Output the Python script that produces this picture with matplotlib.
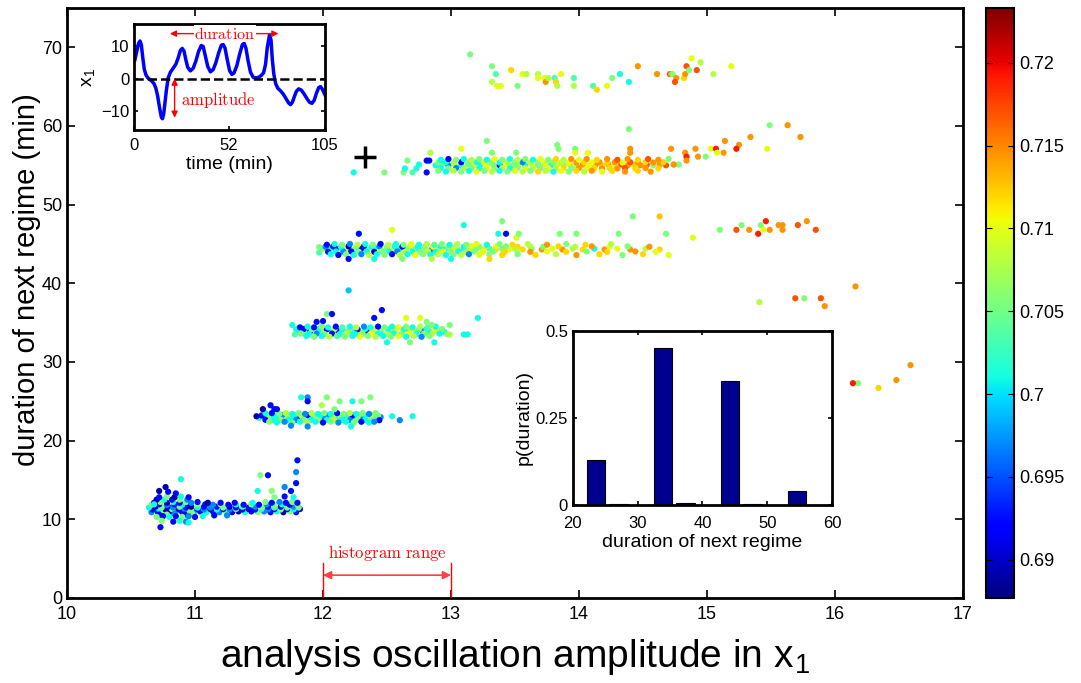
import numpy as np
import matplotlib.pyplot as plt
from matplotlib.colors import Normalize

plt.rcParams['font.family'] = ['Liberation Sans', 'DejaVu Sans']
plt.rcParams['mathtext.fontset'] = 'cm'

# ---- scatter data: (amplitude, next duration, colour value) ----
regime_11 = [
    (10.66,10.9,.697),(10.71,10.9,.6925),(10.76,11.0,.7055),(10.80,10.9,.689),(10.85,11.0,.701),(10.90,10.9,.6925),
    (10.94,11.0,.7055),(10.99,10.9,.697),(11.04,11.0,.6925),(11.09,10.9,.701),(11.14,11.0,.6925),(11.19,10.9,.697),
    (11.24,11.0,.7055),(11.29,10.9,.6925),(11.34,11.0,.689),(11.39,10.9,.701),(11.44,11.0,.6925),(11.49,10.9,.7055),
    (11.54,11.0,.697),(11.59,10.9,.6925),(11.64,11.0,.701),(11.69,10.9,.689),(11.74,11.0,.7055),(11.79,10.9,.6925),
    (10.67,11.25,.6925),(10.72,11.3,.701),(10.77,11.25,.689),(10.82,11.3,.7055),(10.87,11.25,.6925),(10.92,11.3,.697),
    (10.97,11.25,.7055),(11.02,11.3,.6925),(11.07,11.25,.697),(11.12,11.3,.689),(11.17,11.25,.701),(11.22,11.3,.6925),
    (11.27,11.25,.697),(11.32,11.3,.7055),(11.37,11.25,.6925),(11.42,11.3,.689),(11.47,11.25,.6925),(11.52,11.3,.701),
    (11.57,11.25,.697),(11.62,11.3,.6925),(11.67,11.25,.7055),(11.72,11.3,.6925),(11.77,11.25,.701),(11.82,11.3,.6925),
    (10.64,11.5,.701),(10.69,11.6,.689),(10.74,11.5,.7055),(10.79,11.6,.6925),(10.83,11.5,.697),(10.88,11.6,.7055),
    (10.93,11.5,.6925),(10.97,11.6,.689),(11.02,11.5,.701),(11.07,11.6,.6925),(11.12,11.5,.697),(11.17,11.6,.6925),
    (11.22,11.5,.7055),(11.27,11.6,.689),(11.32,11.5,.6925),(11.37,11.6,.7035),(11.42,11.5,.6925),(11.47,11.6,.697),
    (11.52,11.5,.7055),(11.57,11.6,.6925),(11.62,11.5,.7035),(11.67,11.6,.6925),(11.72,11.5,.7055),(11.77,11.6,.697),
    (11.81,11.5,.7055),
    (10.66,11.85,.7055),(10.72,11.9,.6925),(10.78,11.85,.697),(10.84,11.9,.6925),(10.90,11.85,.701),(10.96,11.9,.689),
    (11.02,11.85,.7055),(11.08,11.9,.6925),(11.14,11.85,.697),(11.20,11.9,.7055),(11.26,11.85,.6925),(11.32,11.9,.701),
    (11.38,11.85,.6925),(11.44,11.9,.7055),(11.50,11.85,.6925),(11.56,11.9,.697),(11.62,11.85,.7055),(11.68,11.9,.701),
    (11.74,11.85,.6925),(11.80,11.9,.7055),
    (10.68,12.1,.6925),(10.73,12.2,.7055),(10.78,12.1,.689),(10.83,12.2,.701),(10.88,12.1,.6925),(10.93,12.2,.7055),
    (10.97,12.1,.697),(11.02,12.2,.6925),(11.10,12.1,.689),(11.20,12.1,.6925),(11.31,12.1,.6925),(11.45,12.1,.701),
    (11.55,12.2,.7055),(11.60,12.1,.6925),(11.66,12.2,.697),(11.71,12.1,.6925),(11.76,12.2,.7055),(11.80,12.1,.6925),
    (10.70,12.5,.689),(10.76,12.5,.701),(10.82,12.5,.6925),(10.88,12.5,.7055),(10.94,12.5,.697),
    (10.72,10.6,.6925),(10.78,10.6,.7055),(10.84,10.7,.697),(10.92,10.6,.6925),(10.98,10.7,.7055),
    (10.70,10.3,.7055),(10.75,10.4,.6925),(10.80,10.3,.701),(10.85,10.4,.6925),(10.90,10.3,.7055),(10.95,10.4,.697),
    (11.00,10.3,.6925),(11.06,10.4,.701),(11.15,10.5,.6925),(11.25,10.5,.697),
    (10.72,12.8,.6925),(10.78,12.9,.7055),(10.84,12.8,.689),(10.89,12.9,.701),(10.95,12.8,.6925),(11.62,12.8,.7055),
    (11.70,12.9,.6925),(11.77,12.8,.701),
    (10.74,9.8,.7055),(10.83,9.7,.6925),(10.88,9.8,.701),(10.93,9.7,.697),
    (10.73,9.0,.6925),(10.89,15.1,.701),(10.77,14.1,.689),(10.72,13.6,.689),(10.85,13.3,.6925),(10.79,13.5,.6925),
    (11.51,15.6,.7055),(11.57,15.6,.6925),(11.79,16.0,.697),(11.79,14.6,.6925),(11.80,17.5,.6925),(11.70,14.1,.697),
    (11.75,13.6,.6925),(11.60,13.6,.7055),(11.49,13.6,.701),(10.95,9.6,.701),(10.68,11.9,.701),
]

regime_23 = [
    (11.50,22.9,.701),(11.55,23.0,.697),(11.60,22.9,.7055),(11.65,23.0,.701),(11.70,22.9,.708),(11.75,23.0,.701),
    (11.80,22.9,.6925),(11.85,23.0,.7055),(11.90,22.9,.701),(11.95,23.0,.708),(12.00,22.9,.697),(12.05,23.0,.7055),
    (12.10,22.9,.701),(12.15,23.0,.6925),(12.20,22.9,.7055),(12.25,23.0,.701),(12.30,22.9,.697),(12.35,23.0,.7055),
    (12.40,22.9,.701),(12.45,23.0,.697),
    (11.52,23.2,.6925),(11.57,23.25,.7055),(11.62,23.2,.701),(11.68,23.25,.697),(11.73,23.2,.7055),(11.78,23.25,.701),
    (11.83,23.2,.708),(11.88,23.25,.6925),(11.93,23.2,.7055),(11.98,23.25,.701),(12.03,23.2,.697),(12.08,23.25,.708),
    (12.13,23.2,.7055),(12.18,23.25,.701),(12.23,23.2,.6925),(12.28,23.25,.7055),(12.33,23.2,.701),(12.38,23.25,.708),
    (12.43,23.2,.7055),
    (11.55,23.5,.701),(11.60,23.5,.6925),(11.66,23.4,.7055),(11.71,23.5,.708),(11.76,23.4,.701),(11.81,23.5,.7055),
    (11.86,23.4,.697),(11.91,23.5,.708),(11.96,23.4,.701),(12.01,23.5,.7055),(12.06,23.4,.701),(12.11,23.5,.6925),
    (12.16,23.4,.7055),(12.21,23.5,.708),(12.26,23.4,.701),(12.31,23.5,.7055),(12.36,23.4,.697),(12.41,23.5,.7055),
    (11.55,22.65,.6925),(11.61,22.6,.701),(11.67,22.65,.7055),(11.73,22.6,.701),(11.79,22.65,.697),(11.85,22.6,.7055),
    (11.91,22.65,.701),(11.97,22.6,.7055),(12.03,22.65,.701),(12.09,22.6,.708),(12.15,22.65,.701),(12.21,22.6,.697),
    (12.27,22.65,.7055),(12.33,22.6,.701),(12.39,22.65,.7055),(12.44,22.6,.6925),
    (11.58,22.4,.7055),(11.64,22.3,.701),(11.70,22.4,.697),(11.76,22.3,.7055),(11.82,22.4,.701),(11.88,22.3,.708),
    (11.94,22.4,.701),(12.00,22.3,.6925),(12.06,22.4,.7055),(12.12,22.3,.697),(12.18,22.4,.701),(12.24,22.3,.7055),
    (12.30,22.4,.6925),(12.36,22.3,.701),(12.40,22.4,.697),
    (12.54,23.1,.701),(12.60,22.6,.697),(12.70,23.1,.701),(11.83,25.5,.701),(11.88,25.5,.697),(11.88,25.0,.6925),
    (12.03,25.5,.7055),(12.13,25.0,.7055),(12.23,25.0,.701),(12.30,25.0,.7055),(12.37,25.5,.7055),(11.99,24.5,.708),
    (12.09,24.0,.7055),(11.53,24.0,.689),(11.59,24.5,.6925),(11.64,24.0,.6925),(11.48,23.1,.689),(11.62,24.0,.6925),
    (11.88,21.8,.697),(11.75,21.9,.697),(12.22,21.8,.701),
]

regime_34 = [
    (11.80,33.9,.701),(11.85,33.8,.7035),(11.90,33.9,.6925),(11.96,33.8,.701),(12.01,33.9,.708),(12.07,33.8,.701),
    (12.12,33.9,.6925),(12.18,33.8,.7055),(12.23,33.9,.701),(12.29,33.8,.708),(12.34,33.9,.6925),(12.40,33.8,.710),
    (12.45,33.9,.701),(12.51,33.8,.708),(12.56,33.9,.7055),(12.62,33.8,.710),(12.67,33.9,.701),(12.73,33.8,.7055),
    (12.78,33.9,.697),(12.84,33.8,.701),(12.89,33.9,.708),(12.95,33.8,.701),
    (11.79,34.15,.701),(11.85,34.2,.6925),(11.91,34.15,.7055),(11.97,34.2,.701),(12.03,34.15,.6925),(12.09,34.2,.708),
    (12.15,34.15,.701),(12.21,34.2,.7055),(12.27,34.15,.6925),(12.33,34.2,.701),(12.39,34.15,.708),(12.45,34.2,.7055),
    (12.51,34.15,.701),(12.57,34.2,.708),(12.63,34.15,.701),(12.69,34.2,.710),(12.75,34.15,.7055),(12.81,34.2,.701),
    (12.87,34.15,.710),(12.93,34.2,.7055),
    (11.82,34.4,.6925),(11.88,34.5,.701),(11.93,34.4,.6925),(11.99,34.5,.7055),(12.04,34.4,.701),(12.10,34.5,.6925),
    (12.15,34.4,.7035),(12.21,34.5,.701),(12.26,34.4,.708),(12.32,34.5,.697),(12.37,34.4,.701),(12.43,34.5,.6925),
    (12.48,34.4,.7055),(12.54,34.5,.701),(12.59,34.4,.710),(12.65,34.5,.7055),(12.70,34.4,.701),(12.76,34.5,.708),
    (12.82,34.4,.7035),(12.88,34.5,.701),
    (11.83,33.6,.7055),(11.89,33.55,.701),(11.95,33.6,.697),(12.01,33.55,.7055),(12.07,33.6,.6925),(12.13,33.55,.701),
    (12.19,33.6,.708),(12.25,33.55,.701),(12.31,33.6,.7055),(12.37,33.55,.710),(12.43,33.6,.701),(12.49,33.55,.708),
    (12.55,33.6,.701),(12.61,33.55,.7055),(12.67,33.6,.710),(12.73,33.55,.701),(12.79,33.6,.7055),(12.85,33.55,.708),
    (12.91,33.6,.701),(12.97,33.55,.7055),
    (11.87,33.3,.701),(11.93,33.2,.7055),(11.99,33.3,.701),(12.05,33.2,.708),(12.11,33.3,.7035),(12.17,33.2,.7055),
    (12.23,33.3,.701),(12.29,33.2,.710),(12.35,33.3,.7055),(12.41,33.2,.708),(12.47,33.3,.701),(12.53,33.2,.7055),
    (12.59,33.3,.710),(12.65,33.2,.701),(12.71,33.3,.708),(12.77,33.2,.697),(12.83,33.3,.7055),
    (11.76,34.7,.701),(11.78,33.5,.7035),(12.99,34.7,.7055),(12.99,33.5,.708),(13.10,33.5,.701),(13.13,33.5,.701),
    (13.21,35.6,.701),(12.46,36.6,.6925),(12.03,36.1,.7055),(12.07,36.1,.6925),(12.40,35.6,.6925),(12.65,35.6,.710),
    (12.76,35.6,.710),(12.81,35.1,.7055),(12.85,34.7,.7055),(12.50,32.5,.701),(12.68,32.5,.7055),(12.87,32.5,.701),
    (12.20,39.1,.699),(11.95,35.1,.6925),(12.00,35.2,.6925),
]

regime_44 = [
    (12.00,44.4,.7055),(12.05,44.3,.701),(12.10,44.4,.6925),(12.15,44.3,.701),(12.20,44.4,.708),(12.25,44.3,.7035),
    (12.30,44.4,.6925),(12.35,44.3,.7055),(12.40,44.4,.701),(12.45,44.3,.708),(12.50,44.4,.7035),(12.55,44.3,.710),
    (12.60,44.4,.701),(12.65,44.3,.7055),(12.70,44.4,.708),(12.75,44.3,.701),(12.80,44.4,.7055),(12.85,44.3,.697),
    (12.90,44.4,.708),(12.95,44.3,.701),(13.00,44.4,.710),(13.05,44.3,.7055),(13.10,44.4,.701),(13.15,44.3,.708),
    (13.20,44.4,.7055),(13.25,44.3,.710),(13.30,44.4,.7035),(13.35,44.3,.712),(13.40,44.4,.7055),(13.45,44.3,.710),
    (13.50,44.4,.708),(13.56,44.3,.712),(13.63,44.4,.7055),(13.71,44.3,.7145),(13.79,44.4,.710),(13.87,44.3,.7145),
    (13.95,44.4,.708),(14.03,44.3,.712),(14.12,44.4,.701),(14.20,44.3,.7145),(14.30,44.4,.710),(14.40,44.3,.7145),
    (14.52,44.4,.708),(14.63,44.3,.712),
    (12.02,44.65,.697),(12.08,44.7,.6925),(12.14,44.65,.701),(12.20,44.7,.689),(12.26,44.65,.7055),(12.32,44.7,.6925),
    (12.38,44.65,.701),(12.44,44.7,.697),(12.50,44.65,.7055),(12.56,44.7,.701),(12.62,44.65,.6925),(12.68,44.7,.708),
    (12.74,44.65,.701),(12.80,44.7,.7055),(12.86,44.65,.710),(12.92,44.7,.701),(12.98,44.65,.7055),(13.04,44.7,.708),
    (13.10,44.65,.701),(13.16,44.7,.710),(13.22,44.65,.7055),(13.28,44.7,.708),(13.35,44.65,.710),(13.43,44.7,.7055),
    (13.52,44.65,.712),(13.62,44.7,.708),(13.72,44.65,.7055),(13.84,44.7,.712),(13.97,44.65,.708),(14.10,44.7,.7145),
    (14.24,44.65,.710),(14.38,44.7,.7055),(14.55,44.65,.7145),
    (12.04,44.0,.6925),(12.10,44.05,.701),(12.16,44.0,.697),(12.22,44.05,.6925),(12.28,44.0,.7055),(12.34,44.05,.701),
    (12.40,44.0,.689),(12.46,44.05,.7055),(12.52,44.0,.701),(12.58,44.05,.697),(12.64,44.0,.708),(12.70,44.05,.701),
    (12.76,44.0,.7055),(12.82,44.05,.708),(12.88,44.0,.701),(12.94,44.05,.710),(13.00,44.0,.7055),(13.06,44.05,.701),
    (13.12,44.0,.708),(13.18,44.05,.7055),(13.25,44.0,.710),(13.33,44.05,.7055),(13.42,44.0,.712),(13.52,44.05,.708),
    (13.62,44.0,.7145),(13.75,44.05,.710),(13.90,44.0,.712),(14.06,44.05,.7055),(14.22,44.0,.712),(14.44,44.05,.7145),
    (14.60,44.0,.710),
    (12.03,44.9,.6925),(12.09,45.0,.701),(12.15,44.9,.7055),(12.21,45.0,.697),(12.27,44.9,.708),(12.33,45.0,.701),
    (12.39,44.9,.7055),(12.45,45.0,.6925),(12.51,44.9,.708),(12.57,45.0,.701),(12.63,44.9,.7055),(12.69,45.0,.710),
    (12.75,44.9,.701),(12.81,45.0,.708),(12.87,44.9,.7035),(12.93,45.0,.7055),(12.99,44.9,.701),(13.05,45.0,.708),
    (13.12,44.9,.7055),(13.20,45.0,.710),(13.28,44.9,.701),(13.38,45.0,.7055),(13.48,44.9,.712),(13.60,45.0,.708),
    (13.75,44.9,.7145),(13.90,45.0,.7055),(14.05,44.9,.712),(14.25,45.0,.708),
    (12.06,43.7,.701),(12.12,43.6,.6925),(12.18,43.7,.7055),(12.24,43.6,.701),(12.30,43.7,.697),(12.36,43.6,.708),
    (12.42,43.7,.701),(12.48,43.6,.7055),(12.54,43.7,.6925),(12.60,43.6,.708),(12.66,43.7,.701),(12.72,43.6,.710),
    (12.78,43.7,.7055),(12.84,43.6,.701),(12.90,43.7,.708),(12.96,43.6,.701),(13.02,43.7,.7055),(13.08,43.6,.708),
    (13.14,43.7,.697),(13.22,43.6,.710),(13.30,43.7,.7055),(13.40,43.6,.712),(13.52,43.7,.7055),(13.66,43.6,.712),
    (13.82,43.7,.708),(13.98,43.6,.7145),(14.16,43.7,.712),(14.34,43.6,.7055),(14.50,43.7,.712),(14.70,43.6,.710),
    (12.20,43.1,.6925),(12.40,43.1,.701),(12.62,43.1,.7055),(12.85,43.1,.708),(13.00,43.1,.701),(13.30,43.1,.712),
    (12.54,46.8,.710),(12.28,46.3,.6925),(13.10,47.4,.701),(13.40,47.9,.7055),(14.42,48.5,.7055),(14.63,48.5,.7126),
    (14.68,46.3,.7055),(14.89,45.8,.710),(14.31,46.3,.7055),(13.85,46.3,.7055),(13.98,46.3,.7055),(13.37,46.3,.701),
    (13.43,46.3,.6925),(13.51,45.8,.710),(13.53,46.3,.7055),(11.97,44.6,.7055),(11.97,43.9,.7035),
    (15.10,46.8,.7055),(15.23,46.8,.717),(15.27,47.4,.7055),(15.33,46.8,.7145),(15.40,46.3,.719),(15.42,47.4,.7055),
    (15.44,46.8,.710),(15.46,47.9,.719),(15.49,46.8,.7145),(15.56,47.4,.7145),(15.59,47.4,.7145),(15.59,46.8,.7145),
    (15.71,47.4,.717),(15.78,47.9,.7145),(15.85,46.8,.717),
]

regime_55 = [
    (12.88,55.0,.701),(12.93,55.1,.7055),(12.98,55.0,.697),(13.03,55.1,.708),(13.08,55.0,.701),(13.13,55.1,.7055),
    (13.18,55.0,.710),(13.23,55.1,.701),(13.28,55.0,.708),(13.33,55.1,.7055),(13.38,55.0,.6925),(13.43,55.1,.710),
    (13.48,55.0,.7055),(13.53,55.1,.708),(13.58,55.0,.701),(13.63,55.1,.710),(13.68,55.0,.7055),(13.73,55.1,.708),
    (13.78,55.0,.701),(13.83,55.1,.710),(13.88,55.0,.7055),(13.93,55.1,.712),(13.98,55.0,.708),(14.03,55.1,.7145),
    (14.08,55.0,.710),(14.13,55.1,.7145),(14.18,55.0,.712),(14.23,55.1,.7145),(14.28,55.0,.710),(14.33,55.1,.717),
    (14.38,55.0,.7145),(14.43,55.1,.712),(14.48,55.0,.7145),(14.53,55.1,.717),(14.58,55.0,.7055),(14.63,55.1,.7145),
    (14.68,55.0,.717),(14.74,55.1,.7055),
    (12.90,55.35,.7055),(12.96,55.4,.701),(13.02,55.35,.708),(13.08,55.4,.6925),(13.14,55.35,.7055),(13.20,55.4,.701),
    (13.26,55.35,.710),(13.32,55.4,.7055),(13.38,55.35,.701),(13.44,55.4,.708),(13.50,55.35,.7055),(13.56,55.4,.697),
    (13.62,55.35,.708),(13.68,55.4,.7055),(13.74,55.35,.710),(13.80,55.4,.7055),(13.86,55.35,.708),(13.92,55.4,.710),
    (13.98,55.35,.7145),(14.04,55.4,.712),(14.10,55.35,.710),(14.16,55.4,.7145),(14.22,55.35,.712),(14.28,55.4,.7145),
    (14.34,55.35,.710),(14.40,55.4,.717),(14.46,55.35,.7145),(14.52,55.4,.712),(14.58,55.35,.7145),(14.66,55.4,.712),
    (12.92,54.65,.701),(12.98,54.6,.7055),(13.04,54.65,.697),(13.10,54.6,.708),(13.16,54.65,.7055),(13.22,54.6,.701),
    (13.28,54.65,.710),(13.34,54.6,.7055),(13.40,54.65,.708),(13.46,54.6,.701),(13.52,54.65,.7055),(13.58,54.6,.710),
    (13.64,54.65,.708),(13.70,54.6,.7055),(13.76,54.65,.710),(13.82,54.6,.708),(13.88,54.65,.712),(13.94,54.6,.7055),
    (14.00,54.65,.7145),(14.06,54.6,.710),(14.12,54.65,.712),(14.18,54.6,.7145),(14.24,54.65,.712),(14.30,54.6,.7145),
    (14.36,54.65,.717),(14.44,54.6,.712),(14.52,54.65,.7145),(14.62,54.6,.712),
    (12.90,54.3,.7055),(12.96,54.2,.701),(13.02,54.3,.708),(13.08,54.2,.7055),(13.14,54.3,.701),(13.20,54.2,.710),
    (13.26,54.3,.7055),(13.32,54.2,.708),(13.38,54.3,.701),(13.44,54.2,.7055),(13.50,54.3,.710),(13.56,54.2,.708),
    (13.62,54.3,.7055),(13.68,54.2,.712),(13.74,54.3,.708),(13.80,54.2,.701),(13.86,54.3,.710),(13.92,54.2,.7055),
    (13.98,54.3,.712),(14.04,54.2,.708),(14.10,54.3,.7145),(14.18,54.2,.710),(14.26,54.3,.712),(14.36,54.2,.7145),
    (14.46,54.3,.712),(14.56,54.2,.7145),
    (12.92,55.7,.701),(12.98,55.8,.6925),(13.04,55.7,.7055),(13.10,55.8,.701),(13.16,55.7,.708),(13.22,55.8,.7055),
    (13.28,55.7,.701),(13.34,55.8,.710),(13.40,55.7,.7055),(13.46,55.8,.701),(13.52,55.7,.708),(13.58,55.8,.7055),
    (13.64,55.7,.701),(13.70,55.8,.710),(13.76,55.7,.7055),(13.82,55.8,.712),(13.88,55.7,.708),(13.94,55.8,.7145),
    (14.00,55.7,.710),(14.06,55.8,.7145),(14.14,55.7,.712),(14.22,55.8,.7145),(14.30,55.7,.717),(14.38,55.8,.7145),
    (14.46,55.7,.712),(14.54,55.8,.717),(14.62,55.7,.7145),(14.70,55.8,.7055),
    (12.24,54.1,.701),(12.48,54.1,.7055),(12.63,54.1,.7055),(12.64,54.6,.701),(12.66,55.6,.7055),(12.73,54.6,.701),
    (12.81,55.6,.6925),(12.83,55.6,.6925),(12.84,56.6,.708),(12.81,54.1,.6925),(12.75,55.1,.701),(12.70,54.1,.7035),
    (13.08,57.1,.710),(13.28,58.1,.7055),(13.32,56.6,.7055),(13.51,56.6,.7055),(13.83,57.6,.7055),(13.84,57.1,.7055),
    (13.97,57.1,.7055),(13.97,56.6,.710),(14.07,56.6,.710),(14.39,59.6,.7055),(14.40,57.1,.7145),(14.40,56.6,.7145),
    (14.72,57.1,.7145),(14.91,57.1,.7145),(14.83,56.6,.7145),(15.03,57.1,.710),(15.07,57.1,.719),(15.14,58.1,.7145),
    (15.25,57.6,.7145),(15.23,57.1,.719),(15.34,58.6,.7145),(15.49,60.1,.7055),(15.63,60.1,.7145),(15.73,58.6,.7145),
    (15.47,57.1,.710),(15.13,56.6,.7145),(15.08,56.6,.710),(14.84,56.1,.719),(14.84,55.6,.7145),(14.99,56.1,.7055),
    (14.93,56.1,.7145),(14.78,55.1,.7055),(14.74,55.1,.7145),(12.33,56.0,.7055),
]

regime_66 = [
    (13.15,69.1,.7055),(13.32,67.6,.7055),(13.35,66.6,.7035),(13.32,65.6,.708),(13.36,65.1,.710),(13.39,65.1,.710),
    (13.47,67.1,.712),(13.52,65.1,.7055),(13.56,66.6,.710),(13.59,66.6,.708),(13.68,66.6,.708),(13.68,66.1,.710),
    (13.73,66.1,.710),(13.74,65.6,.7145),(13.76,66.1,.708),(13.81,66.1,.7035),(13.82,65.6,.712),(13.83,65.1,.708),
    (13.86,66.6,.710),(13.96,66.1,.7035),(13.96,65.1,.708),(14.11,65.1,.7035),(14.14,64.6,.712),(14.22,65.1,.710),
    (14.26,66.1,.7055),(14.32,66.6,.701),(14.39,65.6,.701),(14.46,67.6,.7145),(14.61,66.6,.7145),(14.71,66.6,.717),
    (14.72,66.6,.7145),(14.73,66.6,.7055),(14.76,66.1,.7145),(14.75,65.6,.717),(14.82,66.1,.712),(14.83,66.6,.7145),
    (14.84,67.6,.717),(14.86,67.1,.7055),(14.88,68.6,.710),(14.92,67.1,.717),(14.95,68.1,.708),(15.05,66.6,.708),
    (15.19,67.6,.710),
]

stragglers = [
    (15.41,37.6,.708),(15.69,38.1,.717),(15.76,38.1,.7055),(15.89,38.1,.717),(15.92,37.1,.7145),(16.16,39.6,.7145),
    (16.59,29.6,.7145),(16.48,27.7,.7145),(16.34,26.7,.712),(16.18,27.3,.7055),(16.14,27.3,.719),
]

# ---- inset: example time series x1(t) ----
ts_t = [0.5, 1.5, 2.5, 3.3, 4.0, 4.8, 5.6, 6.5, 7.5, 8.5, 9.8, 11.0, 12.0, 13.0, 14.0, 15.0, 15.6, 16.3, 17.0,
        17.8, 18.8, 20.0, 21.5, 23.0, 24.3, 25.5, 26.5, 27.5, 28.5, 29.5, 31.0, 32.5, 34.0, 35.5, 37.0, 38.0,
        39.2, 40.5, 42.0, 43.5, 45.0, 46.5, 48.0, 49.0, 50.0, 51.2, 52.5, 53.8, 55.0, 56.5, 58.0, 59.5, 60.5,
        61.5, 62.7, 64.0, 65.5, 67.0, 68.5, 70.0, 71.2, 72.3, 73.2, 74.5, 75.3, 76.0, 76.8, 77.8, 79.0, 80.5,
        82.0, 83.5, 85.0, 86.0, 87.0, 88.0, 89.2, 90.5, 92.0, 93.5, 95.0, 96.5, 97.8, 99.0, 100.3, 101.5,
        102.5, 103.5, 104.5, 105.0]
ts_x = [5.9, 8.5, 11.0, 11.7, 10.5, 6.5, 3.0, 1.2, 0.3, -0.2, -0.8, -1.6, -3.0, -5.5, -9.0, -12.0, -12.5, -11.0, -7.5,
        -3.5, 0.3, 2.0, 3.2, 4.5, 6.5, 8.8, 9.4, 8.5, 5.8, 3.5, 2.4, 3.2, 5.5, 8.5, 10.3, 10.0,
        7.0, 3.8, 2.1, 2.8, 5.0, 8.0, 10.4, 10.6, 9.5, 6.0, 2.5, 1.3, 1.8, 4.0, 7.5, 10.5, 11.0,
        9.5, 5.5, 2.0, 0.4, 0.2, 0.4, 1.0, 1.8, 4.5, 9.5, 13.7, 12.0, 6.0, 1.5, -1.5, -3.0, -3.8,
        -4.8, -6.2, -7.6, -8.1, -7.4, -5.8, -4.0, -3.2, -3.6, -4.8, -6.2, -7.4, -7.7, -6.8, -4.5, -2.8,
        -2.5, -3.3, -4.5, -5.1]

# ---- inset: histogram of next-regime duration for amplitudes 12..13 ----
hist_centers = [23.55, 27.0, 30.45, 33.9, 37.35, 40.8, 44.25, 47.7, 51.15, 54.6]
hist_probs = [0.13, 0.002, 0.0, 0.45, 0.005, 0.0, 0.357, 0.002, 0.0, 0.04]

x_ticks = [10, 11, 12, 13, 14, 15, 16, 17]
y_ticks = [0, 10, 20, 30, 40, 50, 60, 70]
cbar_ticks = [0.69, 0.695, 0.7, 0.705, 0.71, 0.715, 0.72]
cbar_labels = ['0.69', '0.695', '0.7', '0.705', '0.71', '0.715', '0.72']
vmin, vmax = 0.6877, 0.7233


def style_axes(a, lw=2.0, length=6):
    for sp in a.spines.values():
        sp.set_linewidth(lw)
    a.tick_params(direction='in', top=True, right=True, length=length, width=1.2)


fig = plt.figure(figsize=(10.81, 6.83), dpi=100)
ax = fig.add_axes([0.062, 0.1245, 0.8288, 0.8638])

pts = regime_11 + regime_23 + regime_34 + regime_44 + regime_55 + regime_66 + stragglers
px = [p[0] for p in pts]
py = [p[1] for p in pts]
pc = [p[2] for p in pts]
norm = Normalize(vmin=vmin, vmax=vmax)
sc = ax.scatter(px, py, c=pc, cmap='jet', norm=norm, s=20, edgecolors='none', zorder=2)
ax.plot(12.33, 56.0, '+', color='k', ms=16, mew=2.5, zorder=3)

ax.set_xlim(10, 17)
ax.set_ylim(0, 75)
ax.set_xticks(x_ticks)
ax.set_yticks(y_ticks)
ax.tick_params(labelsize=13)
ax.tick_params(axis='x', pad=6)
style_axes(ax)
ax.set_xlabel(r'analysis oscillation amplitude in x$_\mathregular{1}$', fontsize=28, labelpad=10)
ax.set_ylabel('duration of next regime (min)', fontsize=21)
ax.yaxis.set_label_coords(-0.029, 0.54)

# histogram range marker
for xv in (12, 13):
    ax.plot([xv, xv], [0, 4.4], color='red', lw=1, zorder=3)
ax.annotate('', xy=(12, 2.9), xytext=(13, 2.9),
            arrowprops=dict(arrowstyle='<|-|>', color='#ff4040', lw=1.2, mutation_scale=12, shrinkA=0, shrinkB=0))
ax.text(12.5, 4.5, r'$\mathrm{histogram\ range}$', color='red', ha='center', va='bottom', fontsize=12)

# colorbar
cax = fig.add_axes([0.912, 0.1245, 0.026, 0.8638])
cb = fig.colorbar(sc, cax=cax)
cb.set_ticks(cbar_ticks)
cb.set_ticklabels(cbar_labels)
cax.tick_params(direction='in', left=True, right=True, length=4, labelsize=13)
cb.outline.set_linewidth(1.5)

# time series inset
ins = fig.add_axes([0.124, 0.8097, 0.1767, 0.1552])
ins.plot(ts_t, ts_x, color='blue', lw=2.5)
ins.axhline(0, color='k', ls='--', lw=1.8)
ins.set_xlim(0, 105)
ins.set_ylim(-16, 17)
ins.set_xticks([0, 52, 105])
ins.set_yticks([-10, 0, 10])
ins.tick_params(labelsize=12)
style_axes(ins, length=3)
ins.tick_params(axis='x', pad=6)
ins.set_xlabel('time (min)', fontsize=14, labelpad=2)
ins.set_ylabel(r'x$_\mathregular{1}$', fontsize=14, labelpad=2)
ins.annotate('', xy=(19.7, 14), xytext=(79.4, 14),
             arrowprops=dict(arrowstyle='<|-|>', color='red', lw=1, mutation_scale=9, shrinkA=0, shrinkB=0))
ins.text(50, 14, r'$\mathrm{duration}$', color='red', ha='center', va='center', fontsize=11.5,
         bbox=dict(fc='white', ec='none', pad=0.3))
ins.annotate('', xy=(22.3, 0), xytext=(22.3, -12.2),
             arrowprops=dict(arrowstyle='<|-|>', color='red', lw=1, mutation_scale=9, shrinkA=0, shrinkB=0))
ins.text(26, -6.8, r'$\mathrm{amplitude}$', color='red', ha='left', va='center', fontsize=12)

# histogram inset
hx = fig.add_axes([0.530, 0.2606, 0.2396, 0.2548])
hx.bar(hist_centers, hist_probs, width=2.9, color='#00008F', edgecolor='k', lw=0.8)
hx.set_xlim(20, 60)
hx.set_ylim(0, 0.5)
hx.set_xticks([20, 30, 40, 50, 60])
hx.set_yticks([0, 0.25, 0.5])
hx.set_yticklabels(['0', '0.25', '0.5'])
hx.tick_params(labelsize=12)
style_axes(hx, length=3)
hx.tick_params(axis='x', pad=8)
hx.set_xlabel('duration of next regime', fontsize=14, labelpad=2)
hx.set_ylabel('p(duration)', fontsize=14, labelpad=2)

fig.savefig('out.png', dpi=100)
